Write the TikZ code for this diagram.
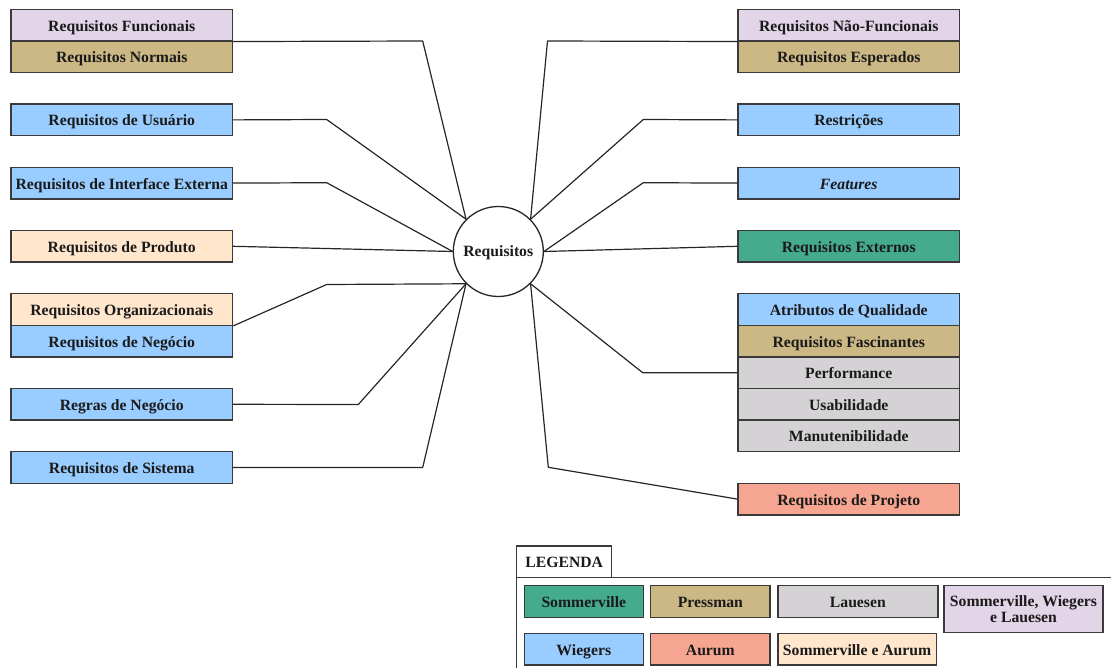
\documentclass[tikz,border=0pt]{standalone}
\usepackage{fontspec}
\setmainfont{Liberation Serif}
\definecolor{cLav}{HTML}{E1D5E7}
\definecolor{cTan}{HTML}{CBB884}
\definecolor{cBlue}{HTML}{99CCFF}
\definecolor{cPeach}{HTML}{FFE6CC}
\definecolor{cTeal}{HTML}{45AB8D}
\definecolor{cGrey}{HTML}{D4D2D4}
\definecolor{cSalmon}{HTML}{F6A690}
\definecolor{cEdge}{HTML}{3A3A3A}
\definecolor{cText}{HTML}{1A1A1A}
\begin{document}
\begin{tikzpicture}[x=1pt,y=-1pt,
  basefont/.style={font=\fontsize{15.7}{17}\selectfont\bfseries,text=cText},
  reqbox/.style={basefont,draw=cEdge,line width=1.3pt,rectangle,minimum width=221.5pt,minimum height=31.6pt,inner sep=0pt,
    text height=12pt,text depth=0pt},
  legframe/.style={basefont,draw=cEdge,line width=1.3pt,rectangle,inner sep=0pt},
  legbox/.style={legframe,minimum height=32pt,text height=12pt,text depth=0pt},
  conn/.style={draw=black!85,line width=1.2pt,line join=round}]
\useasboundingbox (0,0) rectangle (1111,668);
% left column (x center 121.75), rows: center = 25.1 + 31.6 k
\node[reqbox,fill=cLav]   (fun)  at (121.75,25.1)  {Requisitos Funcionais};
\node[reqbox,fill=cTan]   (nor)  at (121.75,56.7)  {Requisitos Normais};
\node[reqbox,fill=cBlue]  (usu)  at (121.75,119.9) {Requisitos de Usuário};
\node[reqbox,fill=cBlue]  (inte) at (121.75,183.1) {Requisitos de Interface Externa};
\node[reqbox,fill=cPeach] (prod) at (121.75,246.3) {Requisitos de Produto};
\node[reqbox,fill=cPeach] (org)  at (121.75,309.5) {Requisitos Organizacionais};
\node[reqbox,fill=cBlue]  (neg)  at (121.75,341.1) {Requisitos de Negócio};
\node[reqbox,fill=cBlue]  (reg)  at (121.75,404.3) {Regras de Negócio};
\node[reqbox,fill=cBlue]  (sis)  at (121.75,467.5) {Requisitos de Sistema};
% right column (x center 848.75)
\node[reqbox,fill=cLav]    (nf)   at (848.75,25.1)  {Requisitos Não-Funcionais};
\node[reqbox,fill=cTan]    (esp)  at (848.75,56.7)  {Requisitos Esperados};
\node[reqbox,fill=cBlue]   (res)  at (848.75,119.9) {Restrições};
\node[reqbox,fill=cBlue]   (fea)  at (848.75,183.1) {\itshape Features};
\node[reqbox,fill=cTeal]   (ext)  at (848.75,246.3) {Requisitos Externos};
\node[reqbox,fill=cBlue]   (atr)  at (848.75,309.5) {Atributos de Qualidade};
\node[reqbox,fill=cTan]    (fas)  at (848.75,341.1) {Requisitos Fascinantes};
\node[reqbox,fill=cGrey]   (perf) at (848.75,372.7) {Performance};
\node[reqbox,fill=cGrey]   (usa)  at (848.75,404.3) {Usabilidade};
\node[reqbox,fill=cGrey]   (man)  at (848.75,435.9) {Manutenibilidade};
\node[reqbox,fill=cSalmon] (proj) at (848.75,499.1) {Requisitos de Projeto};
% centre
\node[basefont,circle,draw=black!85,line width=1.3pt,fill=white,minimum size=90pt,inner sep=0pt,
  text height=10.6pt,text depth=0pt] (req) at (498.3,251.5) {Requisitos};
% bend points
\coordinate (bfun) at (422.7,41);
\coordinate (busu) at (326.7,119.5);
\coordinate (bint) at (326.7,182.7);
\coordinate (borg) at (326.7,284.5);
\coordinate (breg) at (358.3,404.5);
\coordinate (bsis) at (422.7,467.5);
\coordinate (bnf)  at (547.5,41);
\coordinate (bres) at (643.3,119.5);
\coordinate (bfea) at (643.3,182.7);
\coordinate (batr) at (642.7,372.7);
\coordinate (bproj) at (548.3,467.3);
% connectors
\draw[conn] (fun.south east) -- (bfun) -- (req.135);
\draw[conn] (usu.east) -- (busu) -- (req.135);
\draw[conn] (inte.east) -- (bint) -- (req.west);
\draw[conn] (prod.east) -- (req.west);
\draw[conn] (org.south east) -- (borg) -- (req.225);
\draw[conn] (reg.east) -- (breg) -- (req.225);
\draw[conn] (sis.east) -- (bsis) -- (req.225);
\draw[conn] (nf.south west) -- (bnf) -- (req.45);
\draw[conn] (res.west) -- (bres) -- (req.45);
\draw[conn] (fea.west) -- (bfea) -- (req.east);
\draw[conn] (ext.west) -- (req.east);
\draw[conn] (perf.west) -- (batr) -- (req.315);
\draw[conn] (proj.west) -- (bproj) -- (req.315);
% legend
\coordinate (lgA) at (516.7,668);
\coordinate (lgB) at (516.7,577.7);
\coordinate (lgC) at (1111,577.7);
\draw[draw=cEdge,line width=1.3pt] (lgA) -- (lgB) -- (lgC);
\node[legbox,fill=white,minimum width=95pt,minimum height=31.7pt] (leg) at (564.2,561.85) {LEGENDA};
\node[legbox,fill=cTeal,minimum width=119pt]   (lsom) at (583.8,601.7) {Sommerville};
\node[legbox,fill=cTan,minimum width=119.3pt]  (lpre) at (710.35,601.7) {Pressman};
\node[legbox,fill=cGrey,minimum width=160pt]   (llau) at (857.85,601.7) {Lauesen};
\node[legframe,fill=cLav,minimum width=159pt,minimum height=46.5pt,align=center] (lswl) at (1023.5,609) {Sommerville, Wiegers\\[-1pt]e Lauesen};
\node[legbox,fill=cBlue,minimum width=119pt,minimum height=31.7pt]  (lwie) at (583.8,649.15) {Wiegers};
\node[legbox,fill=cSalmon,minimum width=119.3pt,minimum height=31.7pt] (laur) at (710.35,649.15) {Aurum};
\node[legbox,fill=cPeach,minimum width=158.5pt,minimum height=31.7pt] (lsa) at (857.1,649.15) {Sommerville e Aurum};
\end{tikzpicture}
\end{document}
